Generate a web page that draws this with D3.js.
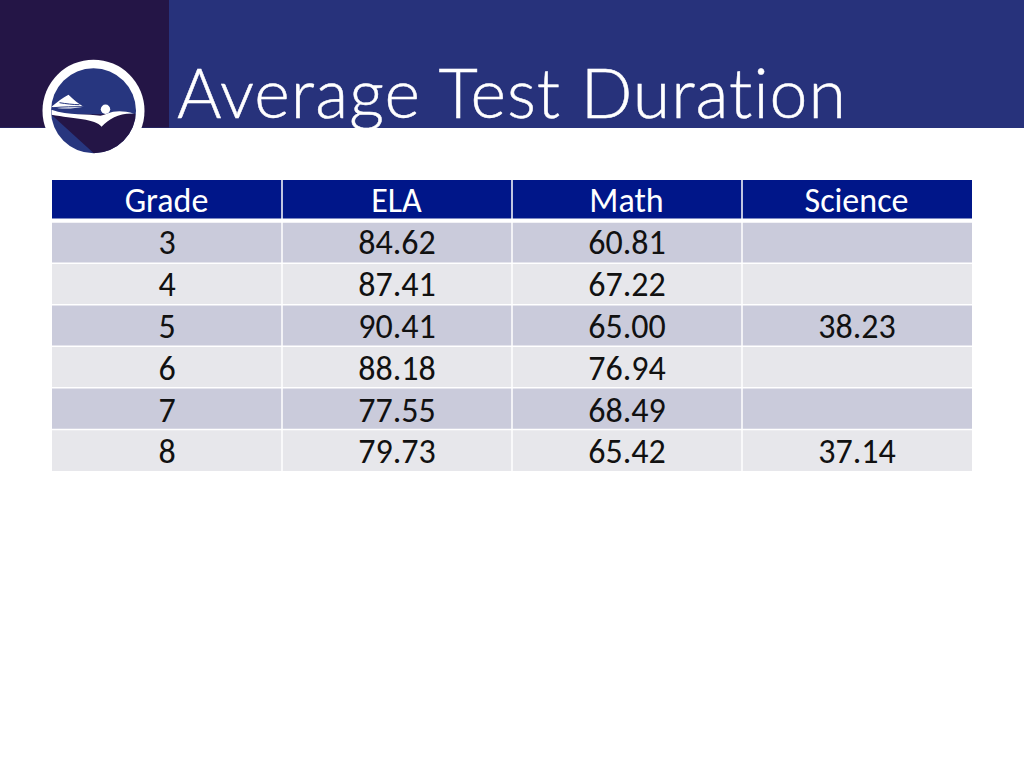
<!DOCTYPE html>
<html><head><meta charset="utf-8">
<script src="https://cdn.jsdelivr.net/npm/d3@7/dist/d3.min.js"></script>
<style>html,body{margin:0;padding:0;background:#fff;overflow:hidden}svg{display:block}</style>
</head><body><svg id="c" width="1024" height="768"></svg>
<script>
const title = "Average Test Duration";
const columns = ["Grade","ELA","Math","Science"];
const grades = ["3","4","5","6","7","8"];
const ela = ["84.62","87.41","90.41","88.18","77.55","79.73"];
const math = ["60.81","67.22","65.00","76.94","68.49","65.42"];
const science = ["","","38.23","","","37.14"];

const svg = d3.select("#c");
const x = d3.scaleBand().domain(columns).range([52,972]);
const y = d3.scaleBand().domain(["head",...grades]).range([180,471]);
const rows = grades.map((g,i)=>[g,ela[i],math[i],science[i]]);
const font = "Carlito, Calibri, 'Open Sans', sans-serif";

// banner
svg.append("rect").attr("x",0).attr("y",0).attr("width",1024).attr("height",128).attr("fill","#27327b");
svg.append("rect").attr("x",0).attr("y",0).attr("width",169).attr("height",127.5).attr("fill","#241546");
svg.append("text").attr("x",177).attr("y",118).attr("fill","#fff")
  .attr("font-family","Lato, sans-serif").attr("font-weight",300).attr("font-size",68)
  .style("font-variant-ligatures","none")
  .attr("stroke","#fff").attr("stroke-width",0.5)
  .attr("textLength",669).attr("lengthAdjust","spacing").text(title);

// logo
const logo = svg.append("g").attr("transform","translate(93.5,110.7)");
logo.append("circle").attr("r",51).attr("fill","#fff");
logo.append("circle").attr("r",42.5).attr("fill","#27367f");
const clip = svg.append("clipPath").attr("id","lc");
clip.append("circle").attr("r",42.5);
const inner = logo.append("g").attr("clip-path","url(#lc)");
inner.append("path").attr("fill","#241546").attr("d","M-42,4 L42,3 L42,45 L3,45 Z");
inner.append("path").attr("fill","#fff").attr("d","M-42,-1 C-25,5 -5,3 7,5 C14,4 20,-3 41,3 C26,2 16,8 8,16 C2,8 -20,8 -42,4 Z");
inner.append("path").attr("fill","#fff").attr("d","M-42,-4 C-36,-9 -31,-13 -25,-16 C-20,-11 -15,-7 -10,-4 C-20,-2 -32,-1 -42,-4 Z");
inner.append("path").attr("fill","none").attr("stroke","#27367f").attr("stroke-width",1).attr("d","M-40,-3 C-30,-4 -20,-4 -10,-4 M-34,-8 C-28,-7 -20,-6 -14,-6");
logo.append("circle").attr("cx",12).attr("cy",-1.4).attr("r",4.7).attr("fill","#fff");

// table
const h = svg.append("g");
h.selectAll("rect").data(columns).join("rect")
  .attr("x",d=>x(d)).attr("y",y("head")).attr("width",x.bandwidth()).attr("height",38.5)
  .attr("fill","#001689");
h.selectAll("text").data(columns).join("text")
  .attr("x",d=>x(d)+x.bandwidth()/2-0.5).attr("y",y("head")+32)
  .attr("text-anchor","middle").attr("fill","#fff")
  .attr("font-family",font).attr("font-size",34).text(d=>d);

const r = svg.selectAll("g.row").data(rows).join("g").attr("class","row");
r.each(function(d,i){
  const g = d3.select(this), top = y(grades[i]);
  g.selectAll("rect").data(columns).join("rect")
    .attr("x",c=>x(c)).attr("y",top).attr("width",x.bandwidth()).attr("height",y.bandwidth())
    .attr("fill",i%2?"#e7e7eb":"#cacbdb");
  g.selectAll("line").data([0]).join("line")
    .attr("x1",52).attr("x2",972).attr("y1",top).attr("y2",top)
    .attr("stroke","#fff").attr("stroke-width",i===0?2.2:1.5);
  g.selectAll("text").data(d).join("text")
    .attr("x",(v,j)=>x(columns[j])+x.bandwidth()/2).attr("y",top+32+(i?1:0)+i*0.2)
    .attr("text-anchor","middle").attr("fill","#111")
    .attr("font-family",font).attr("font-size",34).text(v=>v);
});
// column separators
svg.selectAll("line.sep").data(columns.slice(1)).join("line").attr("class","sep")
  .attr("x1",d=>x(d)).attr("x2",d=>x(d)).attr("y1",180).attr("y2",471)
  .attr("stroke","#fff").attr("stroke-width",1.5);
</script></body></html>
